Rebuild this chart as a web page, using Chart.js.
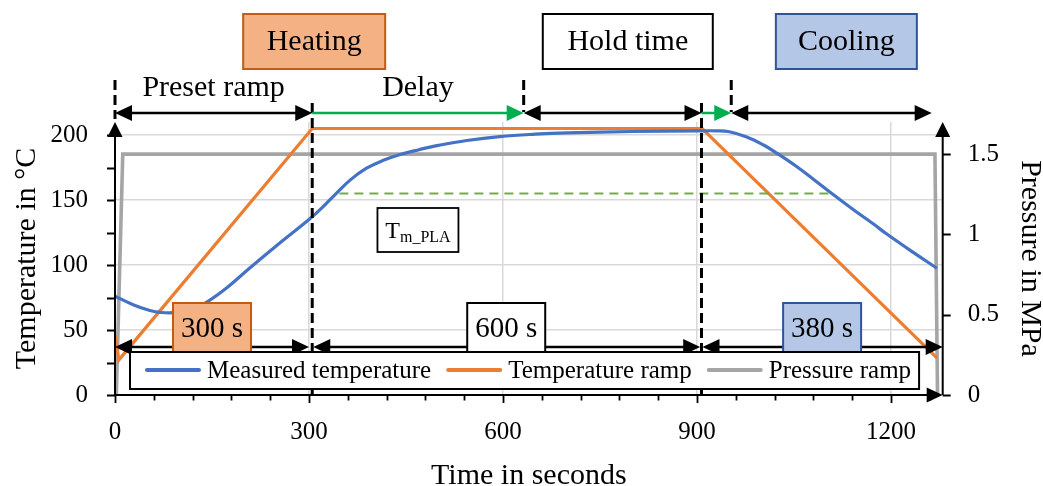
<!DOCTYPE html>
<html>
<head>
<meta charset="utf-8">
<script src="https://cdn.jsdelivr.net/npm/chart.js@4.4.1/dist/chart.umd.min.js"></script>
<style>
  html, body { margin: 0; padding: 0; background: #ffffff; }
  #wrap { width: 1043px; height: 486px; }
</style>
</head>
<body>
<div id="wrap"><canvas id="chart" width="1043" height="486"></canvas></div>
<script>
const FONT = "'Liberation Serif', 'Times New Roman', serif";

// Measured mould temperature (°C) over time (s)
const measuredTime = [0, 28, 54, 70, 95, 121, 142, 173, 208, 260, 300, 320, 340, 364, 389, 415, 441, 470, 500, 544, 595, 650, 700, 800, 905, 930, 950, 977, 1003, 1022, 1054, 1080, 1107, 1142, 1173, 1193, 1235, 1271];
const measuredTemp = [76, 69.5, 65, 63.5, 63.5, 66.5, 71.5, 82.5, 97.5, 119, 135, 144, 154, 165.5, 174.5, 180.5, 185, 188.7, 192, 195.8, 198.8, 200.6, 201.6, 202.7, 203.2, 203.2, 202.5, 198.5, 192.3, 186.5, 175.8, 166, 155.5, 142.5, 131.5, 124, 109.5, 97.5];

// Programmed temperature ramp (°C)
const rampTime = [0, 6, 305, 908, 1271];
const rampTemp = [46, 27, 205, 205, 28.5];

// Pressure ramp (MPa)
const pressTime = [2, 12, 1268, 1272];
const pressValue = [0, 1.5, 1.5, 0];

// Melting temperature of PLA and the time span it is marked over
const tmPla = 155;
const tmPlaSpan = [347, 1107];

// Axis ranges and ticks
const timeMax = 1280, tempMax = 210, pressMax = 1.7;
const timeTicks = [0, 300, 600, 900, 1200];
const tempTicks = [0, 50, 100, 150, 200];
const pressTicks = [0, 0.5, 1, 1.5];
const timeMinorStep = 60, tempMinorStep = 25;

// Process phases (s): preset ramp, delay, hold, delay, cooling
const phaseBounds = [0, 305, 632, 907, 953, 1263];
const phaseIsDelay = [false, true, false, true, false];
const phaseLabels = ['Preset ramp', 'Delay', '', '', ''];

// Programmed steps: start (s) and duration (s)
const stepStarts = [0, 305, 907];
const stepDurations = [300, 600, 380];
const stepLabels = ['300 s', '600 s', '380 s'];

// Stage titles
const stageNames = ['Heating', 'Hold time', 'Cooling'];
const stageTimes = [308, 793, 1131];

const toXY = (xs, ys) => xs.map((t, i) => ({ x: t, y: ys[i] }));

const ORANGE_FILL = '#F4B183', ORANGE_EDGE = '#C55A11';
const BLUE_FILL = '#B4C7E7', BLUE_EDGE = '#2F5597';
const GREEN = '#00B050';
const stageStyles = [
  { fill: ORANGE_FILL, edge: ORANGE_EDGE, w: 142 },
  { fill: '#FFFFFF', edge: '#000000', w: 170 },
  { fill: BLUE_FILL, edge: BLUE_EDGE, w: 141 }
];
const stepStyles = [
  { fill: ORANGE_FILL, edge: ORANGE_EDGE },
  { fill: '#FFFFFF', edge: '#000000' },
  { fill: BLUE_FILL, edge: BLUE_EDGE }
];

function arrowHead(ctx, tx, ty, dx, dy, len, half) {
  const bx = tx - dx * len, by = ty - dy * len;
  ctx.beginPath();
  ctx.moveTo(tx, ty);
  ctx.lineTo(bx - dy * half, by + dx * half);
  ctx.lineTo(bx + dy * half, by - dx * half);
  ctx.closePath();
  ctx.fill();
}

function hArrow(ctx, x1, x2, yy, color, both) {
  const len = 17, half = 8;
  ctx.save();
  ctx.strokeStyle = color;
  ctx.fillStyle = color;
  ctx.lineWidth = 2.5;
  ctx.beginPath();
  ctx.moveTo(both ? x1 + len - 3 : x1, yy);
  ctx.lineTo(x2 - len + 3, yy);
  ctx.stroke();
  arrowHead(ctx, x2, yy, 1, 0, len, half);
  if (both) arrowHead(ctx, x1, yy, -1, 0, len, half);
  ctx.restore();
}

function dashedV(ctx, xx, y1, y2) {
  ctx.save();
  ctx.strokeStyle = '#000000';
  ctx.lineWidth = 3;
  ctx.setLineDash([10, 5]);
  ctx.beginPath();
  ctx.moveTo(xx, y1);
  ctx.lineTo(xx, y2);
  ctx.stroke();
  ctx.restore();
}

function textBox(ctx, cx, top, w, h, fill, edge, text, size) {
  ctx.save();
  ctx.fillStyle = fill;
  ctx.strokeStyle = edge;
  ctx.lineWidth = 2;
  ctx.fillRect(cx - w / 2, top, w, h);
  ctx.strokeRect(cx - w / 2, top, w, h);
  ctx.fillStyle = '#000000';
  ctx.font = size + 'px ' + FONT;
  ctx.textAlign = 'center';
  ctx.textBaseline = 'middle';
  ctx.fillText(text, cx, top + h / 2 + 1);
  ctx.restore();
}

const processPlugin = {
  id: 'process',
  afterDatasetsDraw(chart) {
    const { ctx, chartArea: a } = chart;
    const x = chart.scales.x, y = chart.scales.y, y2 = chart.scales.y2;
    const px = t => x.getPixelForValue(t);

    // Melting temperature marker
    ctx.save();
    ctx.strokeStyle = '#70AD47';
    ctx.lineWidth = 2.2;
    ctx.setLineDash([9, 6]);
    ctx.beginPath();
    ctx.moveTo(px(tmPlaSpan[0]), y.getPixelForValue(tmPla));
    ctx.lineTo(px(tmPlaSpan[1]), y.getPixelForValue(tmPla));
    ctx.stroke();
    ctx.restore();

    // T_m_PLA label
    {
      const cx = px((phaseBounds[1] + phaseBounds[2]) / 2);
      const top = y.getPixelForValue(tmPla) + 14.5;
      const w = 81, h = 44;
      ctx.save();
      ctx.fillStyle = '#FFFFFF';
      ctx.strokeStyle = '#000000';
      ctx.lineWidth = 1.8;
      ctx.fillRect(cx - w / 2, top, w, h);
      ctx.strokeRect(cx - w / 2, top, w, h);
      ctx.fillStyle = '#000000';
      ctx.textBaseline = 'alphabetic';
      ctx.textAlign = 'left';
      ctx.font = '24px ' + FONT;
      const tW = ctx.measureText('T').width;
      ctx.font = '16px ' + FONT;
      const sW = ctx.measureText('m_PLA').width;
      const x0 = cx - (tW + sW) / 2;
      ctx.font = '24px ' + FONT;
      ctx.fillText('T', x0, top + 29.5);
      ctx.font = '16px ' + FONT;
      ctx.fillText('m_PLA', x0 + tW, top + 33.5);
      ctx.restore();
    }

    // Phase boundaries
    phaseBounds.forEach((t, i) => {
      const xx = px(t);
      if (stepStarts.indexOf(t) > 0) dashedV(ctx, xx, a.top - 19, a.bottom);
      else if (i === 0) dashedV(ctx, xx, a.top - 42, a.top - 3);
      else if (i < phaseBounds.length - 1) dashedV(ctx, xx, a.top - 42, a.top - 10);
    });

    // Phase arrows along the top
    const topY = a.top - 9;
    for (let i = 0; i < phaseBounds.length - 1; i++) {
      const x1 = px(phaseBounds[i]), x2 = px(phaseBounds[i + 1]);
      if (phaseIsDelay[i]) hArrow(ctx, x1, x2, topY, GREEN, false);
      else hArrow(ctx, x1, x2, topY, '#000000', true);
      if (phaseLabels[i]) {
        ctx.save();
        ctx.fillStyle = '#000000';
        ctx.font = '30px ' + FONT;
        ctx.textAlign = 'center';
        ctx.textBaseline = 'alphabetic';
        ctx.fillText(phaseLabels[i], (x1 + x2) / 2, a.top - 26);
        ctx.restore();
      }
    }

    // Stage titles
    stageNames.forEach((name, i) => {
      const s = stageStyles[i];
      textBox(ctx, px(stageTimes[i]), a.top - 108, s.w, 55, s.fill, s.edge, name, 30);
    });

    // Step arrows and durations
    const botY = a.bottom - 48;
    stepStarts.forEach((t0, i) => {
      const t1 = Math.min(t0 + stepDurations[i], timeMax);
      const x1 = px(t0), x2 = px(t1);
      hArrow(ctx, x1 + (i ? 1 : 0), x2, botY, '#000000', true);
      const s = stepStyles[i];
      textBox(ctx, (x1 + x2) / 2, a.bottom - 92, 78, 50, s.fill, s.edge, stepLabels[i], 29);
    });

    // Legend
    {
      const items = chart.data.datasets;
      const left = a.left + 15, cy = a.bottom - 25;
      ctx.save();
      ctx.font = '25px ' + FONT;
      let xx = left + 15;
      const widths = items.map(d => ctx.measureText(d.label).width);
      const total = widths.reduce((s, w) => s + w + 56 + 6, 0) + 15 * (items.length - 1);
      ctx.fillStyle = '#FFFFFF';
      ctx.strokeStyle = '#000000';
      ctx.lineWidth = 2;
      const bx = left, by = a.bottom - 43, bw = total + 15 + 8, bh = 37;
      ctx.fillRect(bx, by, bw, bh);
      ctx.strokeRect(bx, by, bw, bh);
      items.forEach((d, i) => {
        ctx.strokeStyle = d.borderColor;
        ctx.lineWidth = 4;
        ctx.lineCap = 'round';
        ctx.beginPath();
        ctx.moveTo(xx + 2, cy);
        ctx.lineTo(xx + 54, cy);
        ctx.stroke();
        ctx.fillStyle = '#000000';
        ctx.textAlign = 'left';
        ctx.textBaseline = 'middle';
        ctx.fillText(d.label, xx + 62, cy + 1);
        xx += 62 + widths[i] + 15;
      });
      ctx.restore();
    }

    // Axis lines, arrows and tick marks
    ctx.save();
    ctx.strokeStyle = '#000000';
    ctx.fillStyle = '#000000';
    ctx.lineWidth = 2;
    ctx.beginPath();
    ctx.moveTo(a.left, a.bottom);
    ctx.lineTo(a.left, a.top + 12);
    ctx.moveTo(a.right, a.bottom);
    ctx.lineTo(a.right, a.top + 12);
    ctx.moveTo(a.left, a.bottom);
    ctx.lineTo(a.right - 12, a.bottom);
    ctx.stroke();
    arrowHead(ctx, a.left, a.top, 0, -1, 15, 7.5);
    arrowHead(ctx, a.right, a.top, 0, -1, 15, 7.5);
    arrowHead(ctx, a.right, a.bottom, 1, 0, 16, 7.5);

    ctx.lineWidth = 1.8;
    ctx.beginPath();
    for (let v = 0; v <= tempMax; v += tempMinorStep) {
      const yy = Math.round(y.getPixelForValue(v)) + 0.5;
      ctx.moveTo(a.left - 8, yy);
      ctx.lineTo(a.left, yy);
    }
    pressTicks.forEach(v => {
      const yy = Math.round(y2.getPixelForValue(v)) + 0.5;
      ctx.moveTo(a.right, yy);
      ctx.lineTo(a.right + 8, yy);
    });
    for (let t = 0; t < timeMax; t += timeMinorStep) {
      const xx = Math.round(px(t)) + 0.5;
      const major = timeTicks.indexOf(t) >= 0;
      ctx.moveTo(xx, a.bottom);
      ctx.lineTo(xx, a.bottom + (major ? 8 : 5.5));
    }
    ctx.stroke();
    ctx.restore();
  }
};

const tickFont = { family: FONT, size: 25 };
const titleFont = (lh) => ({ family: FONT, size: 30, lineHeight: lh });
const gridColor = c => (c.tick && c.tick.value === 0 ? 'rgba(0,0,0,0)' : '#D9D9D9');
const plainLabel = v => String(v);

new Chart(document.getElementById('chart'), {
  type: 'line',
  data: {
    datasets: [
      {
        label: 'Measured temperature',
        data: toXY(measuredTime, measuredTemp),
        yAxisID: 'y',
        borderColor: '#4472C4',
        borderWidth: 3.2,
        pointRadius: 0,
        tension: 0.4
      },
      {
        label: 'Temperature ramp',
        data: toXY(rampTime, rampTemp),
        yAxisID: 'y',
        borderColor: '#ED7D31',
        borderWidth: 3.2,
        pointRadius: 0,
        tension: 0
      },
      {
        label: 'Pressure ramp',
        data: toXY(pressTime, pressValue),
        yAxisID: 'y2',
        borderColor: '#A5A5A5',
        borderWidth: 3.6,
        pointRadius: 0,
        tension: 0
      }
    ]
  },
  options: {
    responsive: false,
    devicePixelRatio: 1,
    animation: false,
    events: [],
    layout: { padding: { top: 122, left: 0, right: 0, bottom: 0 } },
    plugins: { legend: { display: false }, tooltip: { enabled: false } },
    scales: {
      x: {
        type: 'linear',
        min: 0,
        max: timeMax,
        afterBuildTicks: s => { s.ticks = timeTicks.map(v => ({ value: v })); },
        afterFit: s => { s.height = 91; },
        ticks: { font: tickFont, color: '#000000', padding: 22, maxRotation: 0, autoSkip: false, callback: plainLabel },
        grid: { color: gridColor, lineWidth: 1.5, drawTicks: false },
        border: { display: false },
        title: { display: true, text: 'Time in seconds', color: '#000000', font: titleFont('20px'), padding: 0 }
      },
      y: {
        type: 'linear',
        position: 'left',
        min: 0,
        max: tempMax,
        afterBuildTicks: s => { s.ticks = tempTicks.map(v => ({ value: v })); },
        afterFit: s => { s.width = 115; },
        ticks: { font: tickFont, color: '#000000', padding: 27, callback: plainLabel },
        grid: { color: gridColor, lineWidth: 1.5, drawTicks: false },
        border: { display: false },
        title: { display: true, text: 'Temperature in °C', color: '#000000', font: titleFont('36px'), padding: { top: 9, bottom: 0 } }
      },
      y2: {
        type: 'linear',
        position: 'right',
        min: 0,
        max: pressMax,
        afterBuildTicks: s => { s.ticks = pressTicks.map(v => ({ value: v })); },
        afterFit: s => { s.width = 100.3; },
        ticks: { font: tickFont, color: '#000000', padding: 25, callback: plainLabel },
        grid: { display: false, drawOnChartArea: false, drawTicks: false },
        border: { display: false },
        title: { display: true, text: 'Pressure in MPa', color: '#000000', font: titleFont('26px'), padding: { top: 0, bottom: 0 } }
      }
    }
  },
  plugins: [processPlugin]
});
</script>
</body>
</html>
